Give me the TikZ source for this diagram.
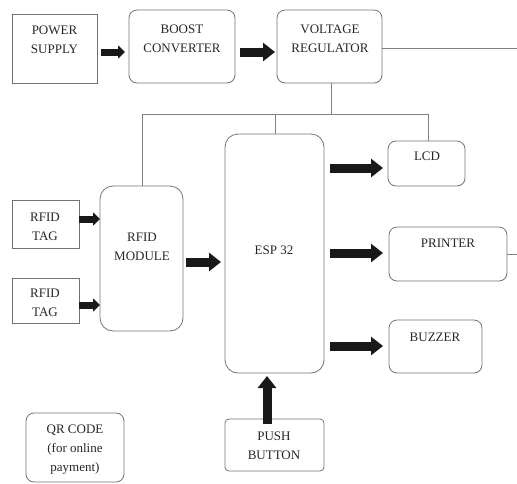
\documentclass[tikz,border=0pt]{standalone}
\usepackage{fontspec}
\setmainfont{Liberation Serif}
\usetikzlibrary{arrows.meta}
\begin{document}
\begin{tikzpicture}[x=1pt,y=-1pt,
 box/.style={draw=black!55, line width=0.8pt, inner sep=0pt, outer sep=0pt},
 rbox/.style={box, rounded corners=8pt},
 bigrbox/.style={box, rounded corners=13pt},
 txt/.style={font=\fontsize{13}{19}\selectfont, align=center, text=black!85, inner sep=0pt},
 wire/.style={draw=black!50, line width=0.8pt},
 blk/.style={line width=9pt, -{Triangle[length=12pt,width=18pt]}, black!90},
 sblk/.style={line width=7pt, -{Triangle[length=7pt,width=13pt]}, black!90}]
\useasboundingbox (0,0) rectangle (517,483);
\newcommand\mkbox[6]{\node[#6, minimum width={(#4-#2)*1pt}, minimum height={(#5-#3)*1pt}] (#1) at ({(#2+#4)/2},{(#3+#5)/2}) {};}
% boxes
\mkbox{ps}{12}{14}{97}{83}{box}
\mkbox{bc}{129}{10}{235}{83}{rbox}
\mkbox{vr}{277}{10}{382}{83}{rbox}
\mkbox{rfid}{100}{186}{183}{331}{bigrbox}
\mkbox{tagA}{12}{200}{79}{248}{box}
\mkbox{tagB}{12}{278}{79}{323}{box}
\mkbox{esp}{225}{134}{324}{373}{bigrbox}
\mkbox{lcd}{388}{141}{465}{186}{rbox}
\mkbox{prn}{389}{227}{507}{281}{rbox}
\mkbox{buz}{389}{320}{482}{373}{rbox}
\mkbox{push}{225}{419}{324}{471}{box, rounded corners=4pt}
\mkbox{qr}{26}{413}{124}{482}{rbox}
% texts
\node[txt] (psT) at (54.5,40) {POWER\\SUPPLY};
\node[txt] (bcT) at (182,38.5) {BOOST\\CONVERTER};
\node[txt] (vrT) at (330,38.5) {VOLTAGE\\REGULATOR};
\node[txt] (tagAT) at (45,226.5) {RFID\\TAG};
\node[txt] (tagBT) at (45,303) {RFID\\TAG};
\node[txt] (rfidT) at (142,247) {RFID\\MODULE};
\node[txt] (espT) at (274,250) {ESP 32};
\node[txt] (lcdT) at (427,156) {LCD};
\node[txt] (prnT) at (448,243) {PRINTER};
\node[txt] (buzT) at (435,337) {BUZZER};
\node[txt] (pushT) at (274,445.5) {PUSH\\BUTTON};
\node[txt] (qrT) at (75,449.5) {QR CODE\\(for online\\payment)};
% wires
\coordinate (busL) at (142,114);
\coordinate (busR) at (428,114);
\coordinate (busE) at (275,114);
\coordinate (outA) at (517,48);
\coordinate (outB) at (517,254);
\draw[wire] (vr.south -| 331,0) -- (331,114);
\draw[wire] (rfid.north -| busL) -- (busL) -- (busR) -- (busR |- lcd.north);
\draw[wire] (busE) -- (busE |- esp.north);
\draw[wire] (vr.east |- outA) -- (outA);
\draw[wire] (prn.east |- outB) -- (outB);
% block arrows
\draw[sblk] ([xshift=4pt,yshift=-3.5pt]ps.east) -- ([xshift=-4pt,yshift=-3.5pt]ps.east -| bc.west);
\draw[blk] ([xshift=5pt,yshift=-5.5pt]bc.east) -- ([xshift=-2pt,yshift=-5.5pt]bc.east -| vr.west);
\draw[sblk] (tagA.east |- 0,219) -- (rfid.west |- 0,219);
\draw[sblk] (tagB.east |- 0,305) -- (rfid.west |- 0,305);
\draw[blk] ([xshift=3pt]rfid.east |- 0,262) -- ([xshift=-4pt]esp.west |- 0,262);
\draw[blk] ([xshift=6pt]esp.east |- 0,168) -- ([xshift=-5pt]lcd.west |- 0,168);
\draw[blk] ([xshift=6pt]esp.east |- 0,253) -- ([xshift=-6pt]prn.west |- 0,253);
\draw[blk] ([xshift=6pt]esp.east |- 0,346) -- ([xshift=-6pt]buz.west |- 0,346);
\draw[blk] ([yshift=-5pt]push.north -| 267,0) -- ([yshift=-3pt]esp.south -| 267,0);
\end{tikzpicture}
\end{document}
